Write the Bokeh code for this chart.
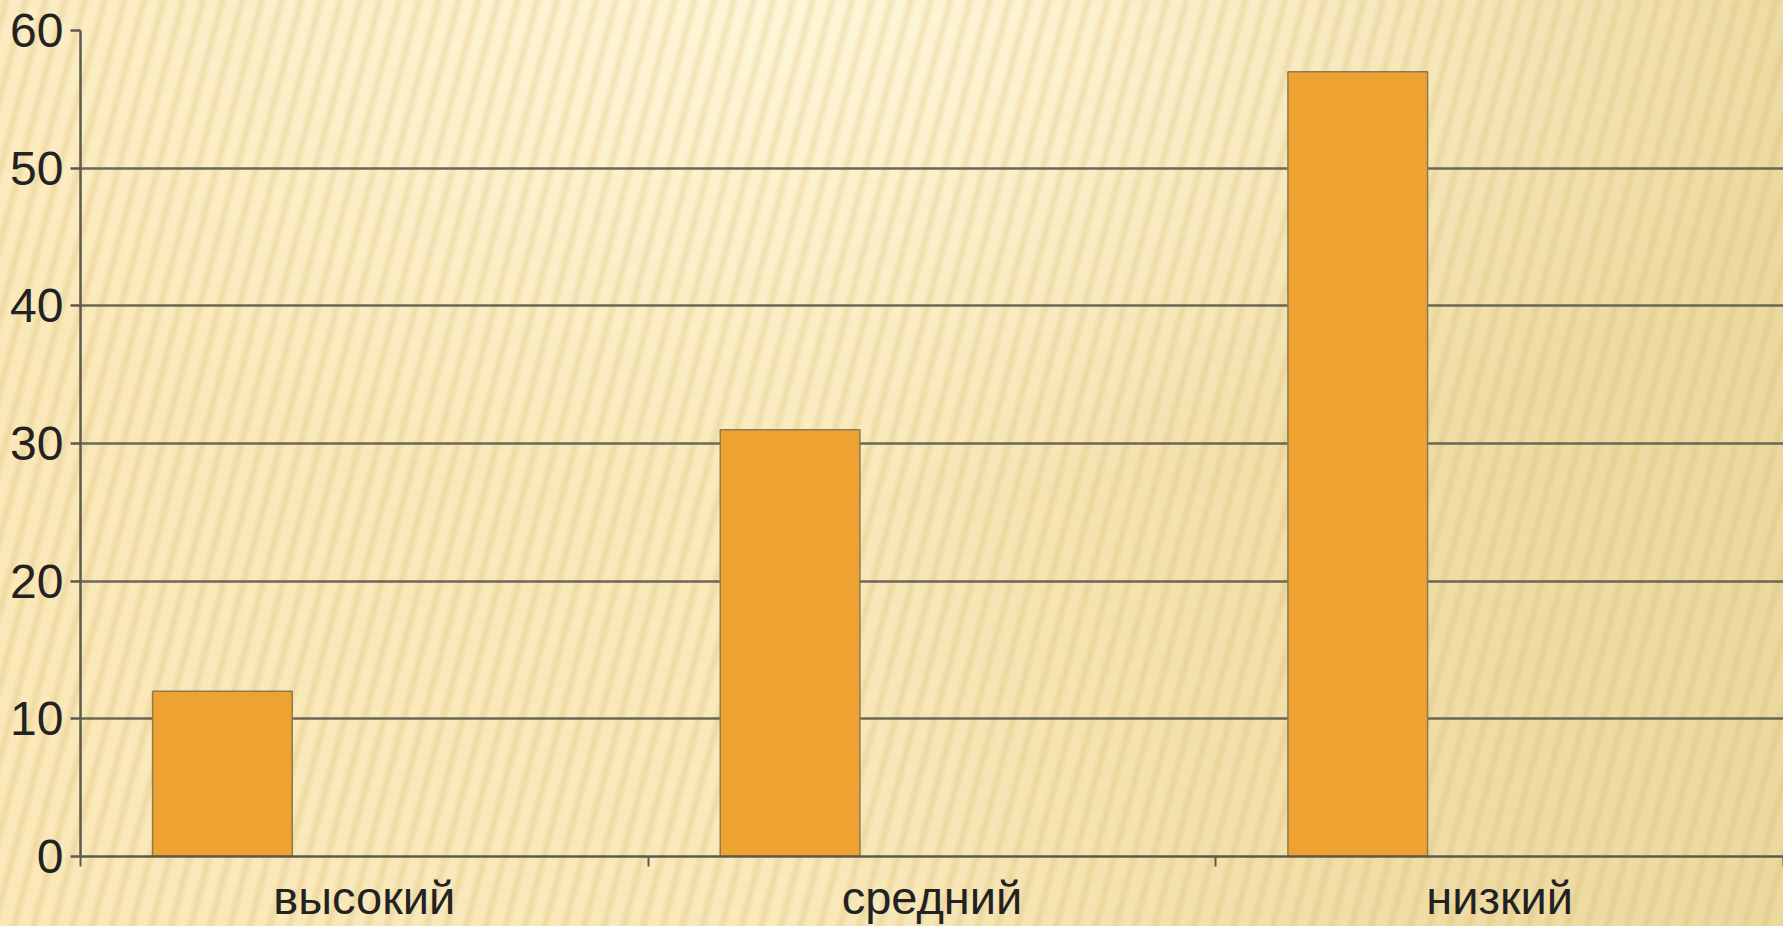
import numpy as np
from bokeh.plotting import figure
from bokeh.models import Range1d, FixedTicker, ColumnDataSource
from bokeh.embed import file_html
from bokeh.resources import INLINE

categories = ["высокий", "средний", "низкий"]
values = [12, 31, 57]
y_ticks = [0, 10, 20, 30, 40, 50, 60]

idx = np.arange(len(categories))
src = ColumnDataSource(dict(x=idx + 0.25, top=values))

p = figure(width=1783, height=926, output_backend="svg", toolbar_location=None,
           x_range=Range1d(0, len(categories)), y_range=Range1d(0, 60),
           min_border_left=80, min_border_right=0, min_border_top=30, min_border_bottom=40)

p.background_fill_alpha = 0
p.border_fill_alpha = 0
p.outline_line_color = None
p.styles = {
    "background": (
        "repeating-linear-gradient(105deg, rgba(205,170,90,0) 0px, rgba(205,170,90,0.24) 6px, "
        "rgba(205,170,90,0) 12px, rgba(205,170,90,0) 19px), "
        "radial-gradient(ellipse 60% 55% at 45% 0%, rgba(255,247,218,0.95) 0%, rgba(255,247,218,0) 100%), "
        "linear-gradient(90deg, #FAE8B8 0%, #F9E9BB 45%, #F1DEA8 75%, #EDD9A0 100%)"
    )
}

p.vbar(x="x", top="top", width=0.246, bottom=0, source=src,
       fill_color="#EDA232", line_color="#8c7a4e", line_width=1.5)

grid_col = "#5c5a4c"
p.xgrid.visible = False
p.ygrid.ticker = FixedTicker(ticks=y_ticks)
p.ygrid.grid_line_color = grid_col
p.ygrid.grid_line_width = 2.5
p.ygrid.grid_line_alpha = 0.9

xa = p.xaxis[0]
xa.ticker = FixedTicker(ticks=list(idx + 0.5), minor_ticks=list(np.arange(len(categories) + 1)))
xa.major_label_overrides = {float(i + 0.5): c for i, c in enumerate(categories)}
xa.major_tick_out = 0
xa.major_tick_in = 0
xa.minor_tick_out = 10
xa.minor_tick_in = 0
xa.minor_tick_line_color = grid_col
xa.minor_tick_line_width = 2
xa.axis_line_color = grid_col
xa.axis_line_width = 2.5
xa.major_label_standoff = 4
xa.major_label_text_font = "Liberation Sans"
xa.major_label_text_font_size = "47px"
xa.major_label_text_color = "#222222"

ya = p.yaxis[0]
ya.ticker = FixedTicker(ticks=y_ticks)
ya.major_tick_out = 10
ya.major_tick_in = 0
ya.minor_tick_out = 0
ya.minor_tick_in = 0
ya.major_tick_line_color = grid_col
ya.major_tick_line_width = 2.5
ya.axis_line_color = grid_col
ya.axis_line_width = 2.5
ya.major_label_standoff = 7
ya.major_label_text_font = "Liberation Sans"
ya.major_label_text_font_size = "48px"
ya.major_label_text_color = "#222222"

open("out.html", "w").write(file_html(p, INLINE))
